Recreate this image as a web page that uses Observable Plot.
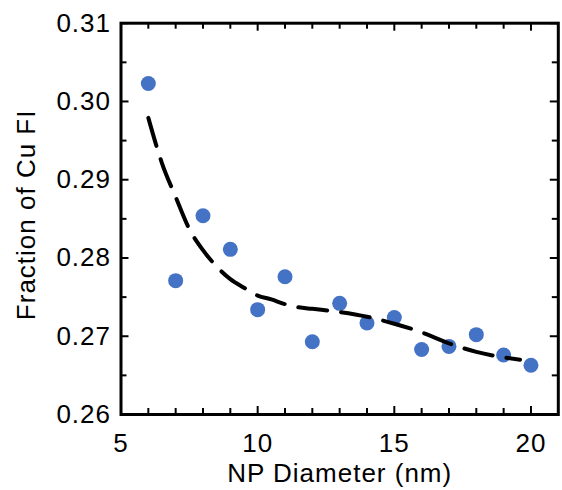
<!DOCTYPE html>
<html>
<head>
<meta charset="utf-8">
<script src="https://cdn.jsdelivr.net/npm/d3@7"></script>
<script src="https://cdn.jsdelivr.net/npm/@observablehq/plot@0.6"></script>
<style>
  html, body { margin: 0; padding: 0; background: #fff; }
  #chart svg { display: block; }
</style>
</head>
<body>
<div id="chart"></div>
<script>
// ---- data ----
const diameters = [6, 7, 8, 9, 10, 11, 12, 13, 14, 15, 16, 17, 18, 19, 20];
const fractions = [0.3023, 0.2771, 0.2854, 0.2811, 0.2734, 0.2776, 0.2693, 0.2742, 0.2717, 0.2724, 0.2683, 0.2687, 0.2702, 0.2676, 0.2663];

const fitDiameters = [6, 6.5, 7, 7.5, 8, 8.5, 9, 9.5, 10, 10.5, 11, 11.5, 12, 13, 14, 15, 16, 17, 18, 19, 19.6];
const fitFractions = [0.2979, 0.2921, 0.2878, 0.2837, 0.2810, 0.2789, 0.2773, 0.2762, 0.2752, 0.2747, 0.2741, 0.2737, 0.2735, 0.2731, 0.2725, 0.2716, 0.2705, 0.2691, 0.2680, 0.2673, 0.2670];

const xMajorTicks = [5, 10, 15, 20];
const xMinorTicks = [6, 7, 8, 9, 11, 12, 13, 14, 16, 17, 18, 19];
const yMajorTicks = [0.26, 0.27, 0.28, 0.29, 0.30, 0.31];
const yMinorTicks = [0.265, 0.275, 0.285, 0.295, 0.305];

const xTitle = "NP Diameter (nm)";
const yTitle = "Fraction of Cu FI";

// ---- layout ----
const W = 562, H = 490;
const mL = 120.5, mR = 4.2, mT = 22.7, mB = 76;
const plotW = W - mL - mR, plotH = H - mT - mB;
const majorLen = 8, minorLen = 6;

const points = diameters.map((d, i) => ({d, f: fractions[i]}));
const fit = fitDiameters.map((d, i) => ({d, f: fitFractions[i]}));

const chart = Plot.plot({
  width: W,
  height: H,
  marginLeft: mL,
  marginRight: mR,
  marginTop: mT,
  marginBottom: mB,
  style: {fontFamily: "'Liberation Sans', Arial, sans-serif", fontSize: "26px", letterSpacing: "1px", color: "black", background: "white"},
  x: {domain: [5, 21]},
  y: {domain: [0.26, 0.31]},
  marks: [
    // tick labels
    Plot.axisX(xMajorTicks, {tickSize: 0, tickPadding: 19.5, label: null, tickFormat: d3.format("d"), fontSize: 26}),
    Plot.axisY(yMajorTicks, {tickSize: 0, tickPadding: 10, label: null, tickFormat: d3.format(".2f"), fontSize: 26}),
    // inward ticks: bottom
    Plot.tickX(xMajorTicks, {x: d => d, insetTop: plotH - majorLen, strokeWidth: 2}),
    Plot.tickX(xMinorTicks, {x: d => d, insetTop: plotH - minorLen, strokeWidth: 2}),
    // top
    Plot.tickX(xMajorTicks, {x: d => d, insetBottom: plotH - majorLen, strokeWidth: 2}),
    Plot.tickX(xMinorTicks, {x: d => d, insetBottom: plotH - minorLen, strokeWidth: 2}),
    // left
    Plot.tickY(yMajorTicks, {y: d => d, insetRight: plotW - majorLen, strokeWidth: 2}),
    Plot.tickY(yMinorTicks, {y: d => d, insetRight: plotW - minorLen, strokeWidth: 2}),
    // right
    Plot.tickY(yMajorTicks, {y: d => d, insetLeft: plotW - majorLen, strokeWidth: 2}),
    Plot.tickY(yMinorTicks, {y: d => d, insetLeft: plotW - minorLen, strokeWidth: 2}),
    Plot.frame({stroke: "black", strokeWidth: 3}),
    // data
    Plot.dot(points, {x: "d", y: "f", r: 7.5, fill: "#4472C4", stroke: "none"}),
    Plot.line(fit, {x: "d", y: "f", stroke: "black", strokeWidth: 4, strokeDasharray: "29,14", curve: "monotone-x"}),
    // axis titles
    Plot.text([xTitle], {frameAnchor: "bottom", text: d => d, lineAnchor: "top", dy: 49.5, fontSize: 26}),
    Plot.text([yTitle], {frameAnchor: "left", text: d => d, rotate: -90, textAnchor: "middle", lineAnchor: "middle", dx: 26 - mL, dy: -4, fontSize: 26})
  ]
});

document.getElementById("chart").appendChild(chart);
</script>
</body>
</html>
